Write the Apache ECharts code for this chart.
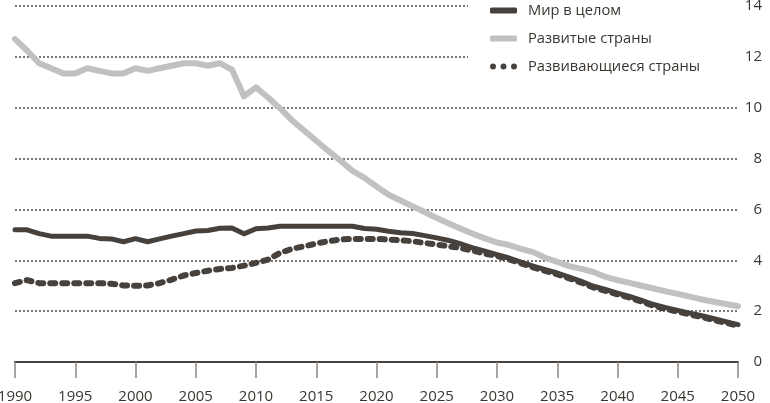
<!DOCTYPE html>
<html><head><meta charset="utf-8">
<script src="https://cdn.jsdelivr.net/npm/echarts@6/dist/echarts.min.js"></script>
<style>html,body{margin:0;padding:0;background:#fff}#c{width:770px;height:403px}</style>
</head><body><div id="c"></div>
<script>
const years = [];
for (let y = 1990; y <= 2050; y++) years.push(y);
const seriesNames = ['Мир в целом', 'Развитые страны', 'Развивающиеся страны'];
const xTicks = [1990,1995,2000,2005,2010,2015,2020,2025,2030,2035,2040,2045,2050];
const yTicks = [0,2,4,6,8,10,12,14];
const world = [5.2,5.2,5.05,4.95,4.95,4.95,4.95,4.86,4.84,4.73,
  4.85,4.73,4.84,4.95,5.05,5.15,5.17,5.26,5.27,5.04,
  5.24,5.27,5.34,5.34,5.34,5.34,5.34,5.34,5.34,5.25,
  5.22,5.14,5.08,5.05,4.97,4.88,4.78,4.64,4.49,4.36,
  4.22,4.09,3.93,3.77,3.63,3.5,3.34,3.17,2.98,2.85,
  2.71,2.58,2.42,2.26,2.14,2.03,1.92,1.82,1.7,1.59,1.47];
const developed = [12.7,12.25,11.75,11.55,11.35,11.35,11.55,11.45,11.35,11.35,
  11.55,11.45,11.55,11.65,11.75,11.75,11.65,11.75,11.5,10.45,
  10.8,10.4,9.97,9.5,9.1,8.7,8.3,7.92,7.52,7.24,
  6.9,6.58,6.35,6.12,5.9,5.66,5.45,5.24,5.04,4.86,
  4.7,4.6,4.45,4.32,4.1,3.94,3.77,3.66,3.54,3.35,
  3.22,3.11,3.0,2.89,2.78,2.68,2.57,2.46,2.37,2.28,2.19];
const developing = [3.1,3.22,3.1,3.1,3.1,3.1,3.1,3.1,3.08,3.01,
  3.0,3.01,3.1,3.24,3.4,3.5,3.59,3.66,3.7,3.79,
  3.9,4.03,4.29,4.45,4.55,4.66,4.75,4.82,4.84,4.84,
  4.84,4.82,4.79,4.75,4.68,4.62,4.55,4.48,4.38,4.26,
  4.17,4.04,3.88,3.72,3.58,3.45,3.29,3.12,2.93,2.8,
  2.66,2.53,2.37,2.21,2.09,1.98,1.87,1.77,1.65,1.54,1.42];

const pair = arr => years.map((y, i) => [y, arr[i]]);
const dark = '#46413c', gray = '#c1c1c1', txt = '#3b3631';
const font = 'Open Sans';

const chart = echarts.init(document.getElementById('c'), null, {renderer: 'canvas'});
chart.setOption({
  animation: false,
  backgroundColor: '#fff',
  textStyle: {fontFamily: font},
  grid: {left: 15, right: 32, top: 6, bottom: 41, containLabel: false, outerBoundsMode: 'none'},
  legend: {
    orient: 'vertical', left: 468, top: 0,
    padding: [3, 40, 4, 22],
    backgroundColor: '#fff',
    itemWidth: 27, itemHeight: 6, itemGap: 13,
    textStyle: {fontFamily: font, fontSize: 14.7, color: txt, padding: [0,0,0,6]},
    data: [
      {name: seriesNames[0], icon: 'roundRect', itemStyle: {color: dark}},
      {name: seriesNames[1], icon: 'roundRect', itemStyle: {color: gray}},
      {name: seriesNames[2], icon: 'path://M0,3a3,3 0 1,0 6,0a3,3 0 1,0 -6,0ZM10.5,3a3,3 0 1,0 6,0a3,3 0 1,0 -6,0ZM21,3a3,3 0 1,0 6,0a3,3 0 1,0 -6,0Z', itemStyle: {color: dark}}
    ]
  },
  xAxis: {
    type: 'value', min: xTicks[0], max: xTicks[xTicks.length-1], interval: 5,
    axisLine: {show: true, lineStyle: {color: dark, width: 2}},
    axisTick: {show: true, length: 16, lineStyle: {color: '#8d8780', width: 1.5}},
    axisLabel: {color: txt, fontSize: 15, fontFamily: font, margin: 27, formatter: v => String(v)},
    splitLine: {show: false}
  },
  yAxis: {
    type: 'value', position: 'right', min: yTicks[0], max: yTicks[yTicks.length-1], interval: 2,
    axisLine: {show: false}, axisTick: {show: false},
    axisLabel: {color: txt, fontSize: 15, fontFamily: font, align: 'right', margin: 24},
    splitLine: {show: true, lineStyle: {color: '#4f4841', width: 1.5, type: [2, 2]}}
  },
  series: [
    {name: seriesNames[1], type: 'line', data: pair(developed), showSymbol: false, symbol: 'none', z: 3,
     lineStyle: {color: gray, width: 6, cap: 'round', join: 'round'}, itemStyle: {color: gray}},
    {name: seriesNames[0], type: 'line', data: pair(world), showSymbol: false, symbol: 'none', z: 4,
     lineStyle: {color: dark, width: 5, cap: 'round', join: 'round'}, itemStyle: {color: dark}},
    {name: seriesNames[2], type: 'line', data: pair(developing), showSymbol: false, symbol: 'none', z: 5,
     lineStyle: {color: dark, width: 6, type: [5, 7], cap: 'round', join: 'round'}, itemStyle: {color: dark}}
  ]
});
</script></body></html>
